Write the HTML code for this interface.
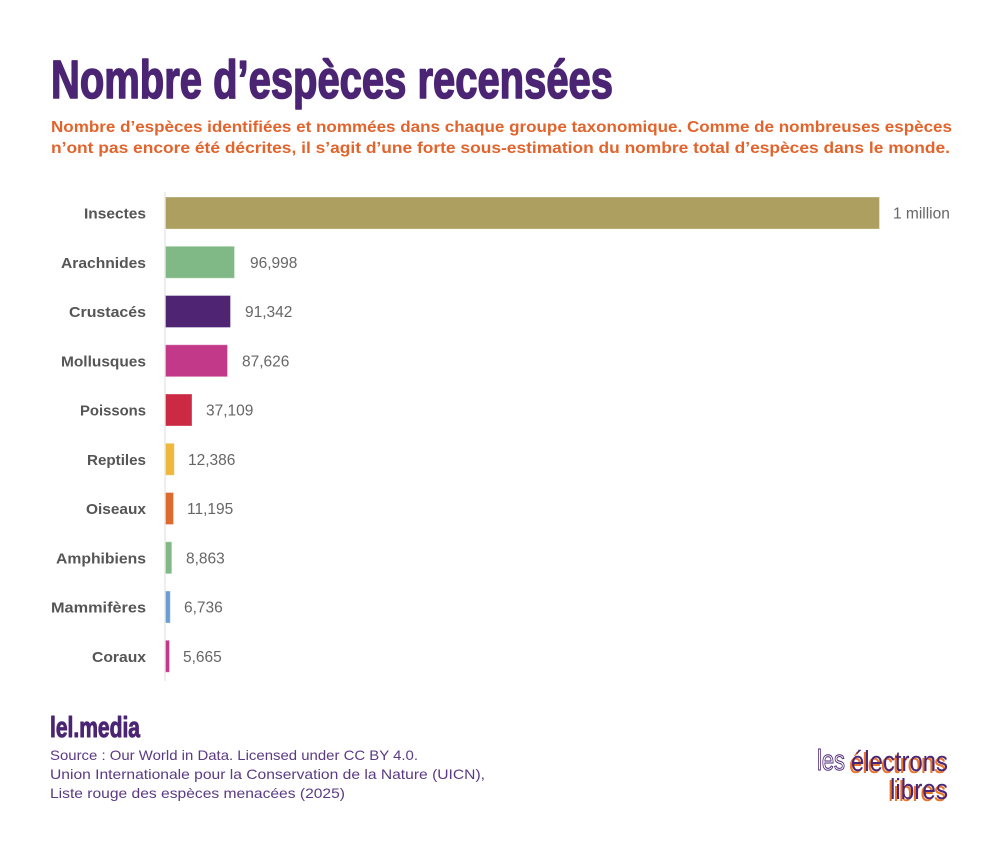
<!DOCTYPE html>
<html><head><meta charset="utf-8"><style>
html,body{margin:0;padding:0;background:#fff;}
svg{display:block;}
</style></head><body>
<svg width="1000" height="850" viewBox="0 0 1000 850" xmlns="http://www.w3.org/2000/svg">
<rect width="1000" height="850" fill="#fff"/>
<!-- Title -->
<text x="51" y="98" font-family="'Liberation Sans Narrow','Liberation Sans',sans-serif" font-weight="bold" font-size="54" fill="#4b2574" stroke="#4b2574" stroke-width="1.6" stroke-linejoin="round" textLength="562" lengthAdjust="spacingAndGlyphs">Nombre d’espèces recensées</text>
<!-- Subtitle -->
<g font-family="'Liberation Sans',sans-serif" font-weight="bold" font-size="15.5" fill="#e2642c">
<text x="51" y="132" textLength="901" lengthAdjust="spacingAndGlyphs">Nombre d’espèces identifiées et nommées dans chaque groupe taxonomique. Comme de nombreuses espèces</text>
<text x="51" y="153" textLength="899" lengthAdjust="spacingAndGlyphs">n’ont pas encore été décrites, il s’agit d’une forte sous-estimation du nombre total d’espèces dans le monde.</text>
</g>
<!-- axis -->
<line x1="165" y1="192" x2="165" y2="681" stroke="#dcdcdc" stroke-width="1"/>
<!-- bars -->
<g stroke="#ffffff" stroke-opacity="0.35" stroke-width="1">
<rect x="165.5" y="197" width="714" height="32" fill="#ad9f5f"/>
<rect x="165.5" y="246.25" width="69" height="32" fill="#80b985"/>
<rect x="165.5" y="295.5" width="65" height="32" fill="#4e2473"/>
<rect x="165.5" y="344.75" width="62" height="32" fill="#c2398a"/>
<rect x="165.5" y="394" width="26.5" height="32" fill="#cc2a44"/>
<rect x="165.5" y="443.25" width="8.8" height="32" fill="#efb83c"/>
<rect x="165.5" y="492.5" width="8" height="32" fill="#dd6a2e"/>
<rect x="165.5" y="541.75" width="6.3" height="32" fill="#80b985"/>
<rect x="165.5" y="591" width="4.8" height="32" fill="#6a9ed0"/>
<rect x="165.5" y="640.25" width="4" height="32" fill="#c2398a"/>
</g>
<!-- category labels -->
<g font-family="'Liberation Sans',sans-serif" font-weight="bold" font-size="15" fill="#555" text-anchor="end">
<text x="146" y="218.5" textLength="62" lengthAdjust="spacingAndGlyphs">Insectes</text>
<text x="146" y="267.75" textLength="85" lengthAdjust="spacingAndGlyphs">Arachnides</text>
<text x="146" y="317" textLength="77" lengthAdjust="spacingAndGlyphs">Crustacés</text>
<text x="146" y="366.25" textLength="85" lengthAdjust="spacingAndGlyphs">Mollusques</text>
<text x="146" y="415.5" textLength="66" lengthAdjust="spacingAndGlyphs">Poissons</text>
<text x="146" y="464.75" textLength="59" lengthAdjust="spacingAndGlyphs">Reptiles</text>
<text x="146" y="514" textLength="60" lengthAdjust="spacingAndGlyphs">Oiseaux</text>
<text x="146" y="563.25" textLength="90" lengthAdjust="spacingAndGlyphs">Amphibiens</text>
<text x="146" y="612.5" textLength="95" lengthAdjust="spacingAndGlyphs">Mammifères</text>
<text x="146" y="661.75" textLength="54" lengthAdjust="spacingAndGlyphs">Coraux</text>
</g>
<!-- value labels -->
<g font-family="'Liberation Sans',sans-serif" font-size="15.5" fill="#666">
<text x="893" y="218.5">1 million</text>
<text x="250" y="267.75">96,998</text>
<text x="245" y="317">91,342</text>
<text x="242" y="366.25">87,626</text>
<text x="206" y="415.5">37,109</text>
<text x="188" y="464.75">12,386</text>
<text x="187" y="514">11,195</text>
<text x="186" y="563.25">8,863</text>
<text x="184" y="612.5">6,736</text>
<text x="183" y="661.75">5,665</text>
</g>
<!-- footer -->
<text x="50" y="737" font-family="'Liberation Sans Narrow','Liberation Sans',sans-serif" font-weight="bold" font-size="29" fill="#4b2574" stroke="#4b2574" stroke-width="1" stroke-linejoin="round" textLength="90" lengthAdjust="spacingAndGlyphs">lel.media</text>
<g font-family="'Liberation Sans',sans-serif" font-size="14" fill="#5a3a84">
<text x="50" y="760" textLength="368" lengthAdjust="spacingAndGlyphs">Source : Our World in Data. Licensed under CC BY 4.0.</text>
<text x="50" y="779" textLength="435" lengthAdjust="spacingAndGlyphs">Union Internationale pour la Conservation de la Nature (UICN),</text>
<text x="50" y="798" textLength="295" lengthAdjust="spacingAndGlyphs">Liste rouge des espèces menacées (2025)</text>
</g>
<!-- logo -->
<g font-family="'Liberation Sans Narrow','Liberation Sans',sans-serif" font-size="29">
<text x="817" y="770" fill="#fff" stroke="#4b2574" stroke-width="1" textLength="28" lengthAdjust="spacingAndGlyphs">les</text>
<text x="849" y="773" fill="#e8742c" textLength="97" lengthAdjust="spacingAndGlyphs">électrons</text>
<text x="851" y="771" fill="#4b2574" textLength="97" lengthAdjust="spacingAndGlyphs">électrons</text>
<text x="888" y="801" fill="#e8742c" textLength="58" lengthAdjust="spacingAndGlyphs">libres</text>
<text x="890" y="799" fill="#4b2574" textLength="58" lengthAdjust="spacingAndGlyphs">libres</text>
</g>
</svg>
</body></html>
